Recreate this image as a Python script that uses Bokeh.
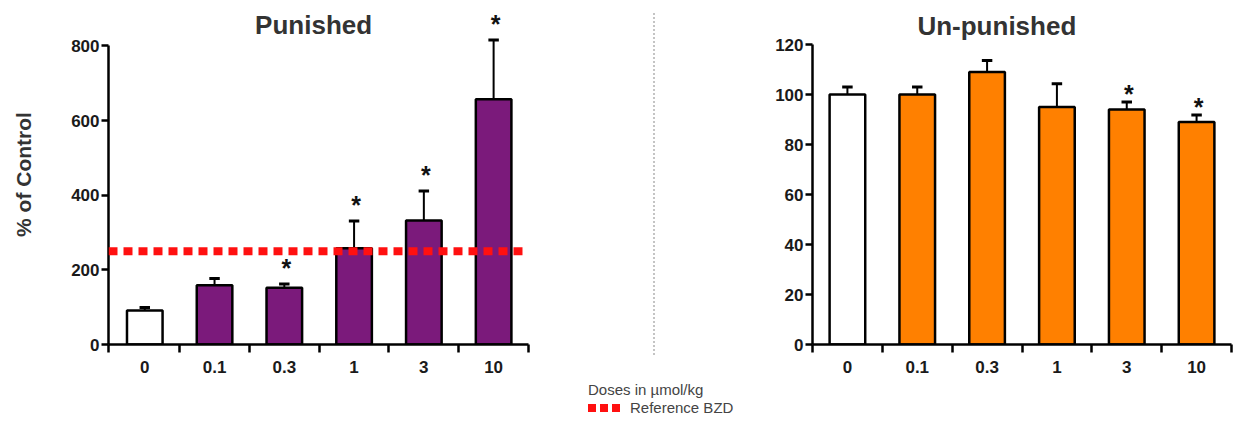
from bokeh.plotting import figure
from bokeh.layouts import row
from bokeh.models import ColumnDataSource, FixedTicker, LinearAxis, Range1d, Span, Label, Div
from bokeh.core.properties import value
from bokeh.embed import file_html
from bokeh.resources import INLINE

# ---------------- data ----------------
doses = ["0", "0.1", "0.3", "1", "3", "10"]
punished_mean = [91, 159, 152, 258, 332, 657]
punished_sem = [8, 18, 10, 73, 79, 159]
punished_sig = [False, False, True, True, True, True]
unpunished_mean = [100, 100, 109, 95, 94, 89]
unpunished_sem = [3, 3, 4.6, 9.3, 3, 2.8]
unpunished_sig = [False, False, False, False, True, True]
reference_bzd = 250
punished_ticks = [0, 200, 400, 600, 800]
unpunished_ticks = [0, 20, 40, 60, 80, 100, 120]
legend_lines = ["Doses in µmol/kg", "Reference BZD"]

FONT = "Liberation Sans"
PURPLE = "#7b1a7b"
ORANGE = "#ff8000"
RED = "#ff1010"


def panel(means, sems, sig, color, yticks, ymax, xstart, width, bl, br,
          title, title_x, title_y, star_off, ylabel=None):
    n = len(doses)
    xs = list(range(n))
    fills = ["white"] + [color] * (n - 1)
    uppers = [m + s for m, s in zip(means, sems)]
    src = ColumnDataSource(dict(x=xs, top=means, upper=uppers, fill=fills,
                                cl=[x - 0.075 for x in xs], cr=[x + 0.075 for x in xs]))
    p = figure(width=width, height=424, output_backend="svg", toolbar_location=None,
               x_range=Range1d(xstart, 5.5), y_range=Range1d(0, ymax),
               min_border_left=bl, min_border_right=br, min_border_top=4,
               min_border_bottom=80, x_axis_location=None, y_axis_location=None)
    p.outline_line_color = None
    p.xgrid.visible = False
    p.ygrid.visible = False

    # error bars (upper only)
    p.segment(x0="x", y0="top", x1="x", y1="upper", source=src, line_color="black", line_width=2)
    p.segment(x0="cl", y0="upper", x1="cr", y1="upper", source=src, line_color="black", line_width=3)
    # bars
    p.vbar(x="x", top="top", bottom=0, width=0.51, source=src, fill_color="fill",
           line_color="black", line_width=2.5)
    # stars
    sx = [x for x, s in zip(xs, sig) if s]
    sy = [u for u, s in zip(uppers, sig) if s]
    p.text(x=sx, y=sy, text=["*"] * len(sx), text_align="center", text_baseline="middle",
           text_font=value(FONT), text_font_style="bold", text_font_size="25px",
           text_color="#111111", x_offset=2, y_offset=star_off)

    # y axis
    ya = LinearAxis(ticker=FixedTicker(ticks=yticks), bounds=(0, yticks[-1]))
    ya.axis_line_width = 2.5
    ya.major_tick_line_width = 2.5
    ya.major_tick_out = 7
    ya.major_tick_in = 0
    ya.minor_tick_out = 0
    ya.minor_tick_in = 0
    ya.major_label_standoff = 2
    ya.major_label_text_font = FONT
    ya.major_label_text_font_style = "bold"
    ya.major_label_text_font_size = "17px"
    ya.major_label_text_color = "#1a1a1a"
    if ylabel:
        ya.axis_label = ylabel
        ya.axis_label_text_font = FONT
        ya.axis_label_text_font_style = "bold"
        ya.axis_label_text_font_size = "21px"
        ya.axis_label_text_color = "#333333"
        ya.axis_label_standoff = 33
    p.add_layout(ya, "left")

    # x axis: labels at centres, ticks at boundaries
    bounds = [xstart + 0.002] + [i + 0.5 for i in range(n - 1)] + [5.498]
    xa = LinearAxis(ticker=FixedTicker(ticks=xs, minor_ticks=bounds),
                    major_label_overrides={i: d for i, d in enumerate(doses)})
    xa.axis_line_width = 2.5
    xa.major_tick_out = 0
    xa.major_tick_in = 0
    xa.minor_tick_out = 8
    xa.minor_tick_in = 0
    xa.minor_tick_line_width = 2.5
    xa.minor_tick_line_color = "black"
    xa.major_label_standoff = 8
    xa.major_label_text_font = FONT
    xa.major_label_text_font_style = "bold"
    xa.major_label_text_font_size = "17px"
    xa.major_label_text_color = "#1a1a1a"
    p.add_layout(xa, "below")

    p.add_layout(Label(x=title_x, y=title_y, text=title, text_align="center",
                       text_baseline="middle", text_font=FONT, text_font_style="bold",
                       text_font_size="26px", text_color="#333333"))
    return p


p1 = panel(punished_mean, punished_sem, punished_sig, PURPLE, punished_ticks, 911, -0.52,
           570, 108, 42, "Punished", 2.42, 855, -16, ylabel="% of Control")
p1.add_layout(Span(location=reference_bzd, dimension="width", line_color=RED,
                   line_width=8, line_dash="9 6"))

# middle strip: dotted separator and shared legend
square = ('<span style="display:inline-block;width:8px;height:8px;background:%s;'
          'margin-right:4px;vertical-align:middle;"></span>' % RED)
mid_html = (
    '<div style="position:relative;width:190px;height:424px;font-family:\'Liberation Sans\',Arial,sans-serif;">'
    '<div style="position:absolute;left:83px;top:13px;height:342px;border-left:2px dotted #c4c4c4;"></div>'
    '<div style="position:absolute;left:18px;top:381px;font-size:15px;line-height:18px;color:#444444;white-space:nowrap;">'
    + legend_lines[0] + '</div>'
    '<div style="position:absolute;left:18px;top:398px;font-size:15px;line-height:18px;color:#444444;white-space:nowrap;">'
    + square * 3 + '<span style="margin-left:6px;vertical-align:middle;">' + legend_lines[1] + '</span></div>'
    '</div>'
)
mid = Div(text=mid_html, width=190, height=424, margin=(0, 0, 0, 0))

p2 = panel(unpunished_mean, unpunished_sem, unpunished_sig, ORANGE, unpunished_ticks, 136, -0.5,
           481, 52, 10, "Un-punished", 2.14, 127.6, -8)

layout = row(p1, mid, p2)
open("out.html", "w").write(file_html(layout, INLINE))
